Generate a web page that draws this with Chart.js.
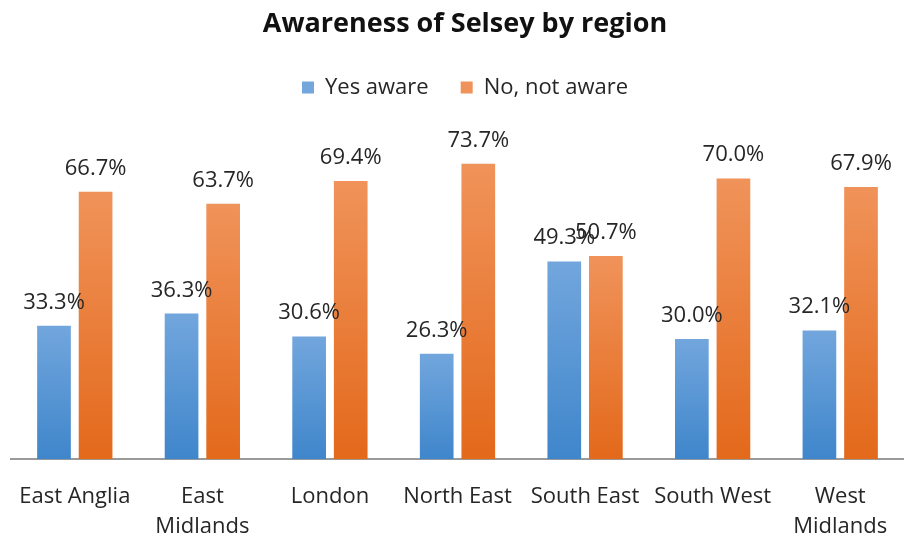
<!DOCTYPE html>
<html>
<head>
<meta charset="utf-8">
<script src="https://cdn.jsdelivr.net/npm/chart.js@4"></script>
<style>
  html, body { margin: 0; padding: 0; background: #fff; overflow: hidden; }
  #wrap { width: 904px; height: 540px; }
</style>
</head>
<body>
<div id="wrap"><canvas id="chart"></canvas></div>
<script>
const regions = ["East Anglia", ["East", "Midlands"], "London", "North East", "South East", "South West", ["West", "Midlands"]];
const yesAware = [33.3, 36.3, 30.6, 26.3, 49.3, 30.0, 32.1];
const notAware = [66.7, 63.7, 69.4, 73.7, 50.7, 70.0, 67.9];

const FONT = "Open Sans";

// gradient per bar, lighter at top
function barFill(top, bottom) {
  return ctx => {
    const chart = ctx.chart;
    if (!chart.chartArea || ctx.type !== "data") return bottom;
    const y = chart.scales.y;
    const y0 = y.getPixelForValue(0);
    const y1 = y.getPixelForValue(ctx.raw);
    const g = chart.ctx.createLinearGradient(0, y1, 0, y0);
    g.addColorStop(0, top);
    g.addColorStop(1, bottom);
    return g;
  };
}

const valueLabels = {
  id: "valueLabels",
  afterDatasetsDraw(chart) {
    const c = chart.ctx;
    c.save();
    c.font = "22px '" + FONT + "'";
    c.fillStyle = "#262626";
    c.textAlign = "center";
    c.textBaseline = "alphabetic";
    chart.data.datasets.forEach((ds, i) => {
      chart.getDatasetMeta(i).data.forEach((bar, j) => {
        c.fillText(ds.data[j].toFixed(1) + "%", bar.x, bar.y - 17);
      });
    });
    c.restore();
  }
};

// extra room under the legend
const legendGap = {
  id: "legendGap",
  beforeInit(chart) {
    const fit = chart.legend.fit;
    chart.legend.fit = function () {
      fit.bind(chart.legend)();
      this.height += 30;
    };
  }
};

new Chart(document.getElementById("chart"), {
  type: "bar",
  data: {
    labels: regions,
    datasets: [
      {
        label: "Yes aware",
        data: yesAware,
        backgroundColor: barFill("#72a6dd", "#3f86cb")
      },
      {
        label: "No, not aware",
        data: notAware,
        backgroundColor: barFill("#f0935a", "#e3691b")
      }
    ]
  },
  options: {
    responsive: true,
    maintainAspectRatio: false,
    animation: false,
    categoryPercentage: 0.652,
    barPercentage: 0.81,
    layout: { padding: { left: 11, right: -15, top: 0, bottom: -5 } },
    plugins: {
      title: {
        display: true,
        text: "Awareness of Selsey by region",
        color: "#111",
        font: { family: FONT, size: 27, weight: "bold" },
        padding: { top: 8, bottom: 4 }
      },
      legend: {
        position: "top",
        labels: {
          color: "#262626",
          font: { family: FONT, size: 22 },
          boxWidth: 12,
          boxHeight: 12,
          padding: 32
        }
      },
      tooltip: { enabled: false }
    },
    scales: {
      x: {
        // tickLength gives the label gap without widening the side padding
        grid: { display: false, drawTicks: true, tickLength: 20 },
        border: { color: "#9a9a9a", width: 2 },
        ticks: {
          color: "#262626",
          font: { family: FONT, size: 22, lineHeight: 1.36 },
          maxRotation: 0,
          autoSkip: false,
          padding: 3
        }
      },
      y: {
        display: false,
        min: 0,
        max: 80
      }
    }
  },
  plugins: [valueLabels, legendGap]
});
</script>
</body>
</html>
